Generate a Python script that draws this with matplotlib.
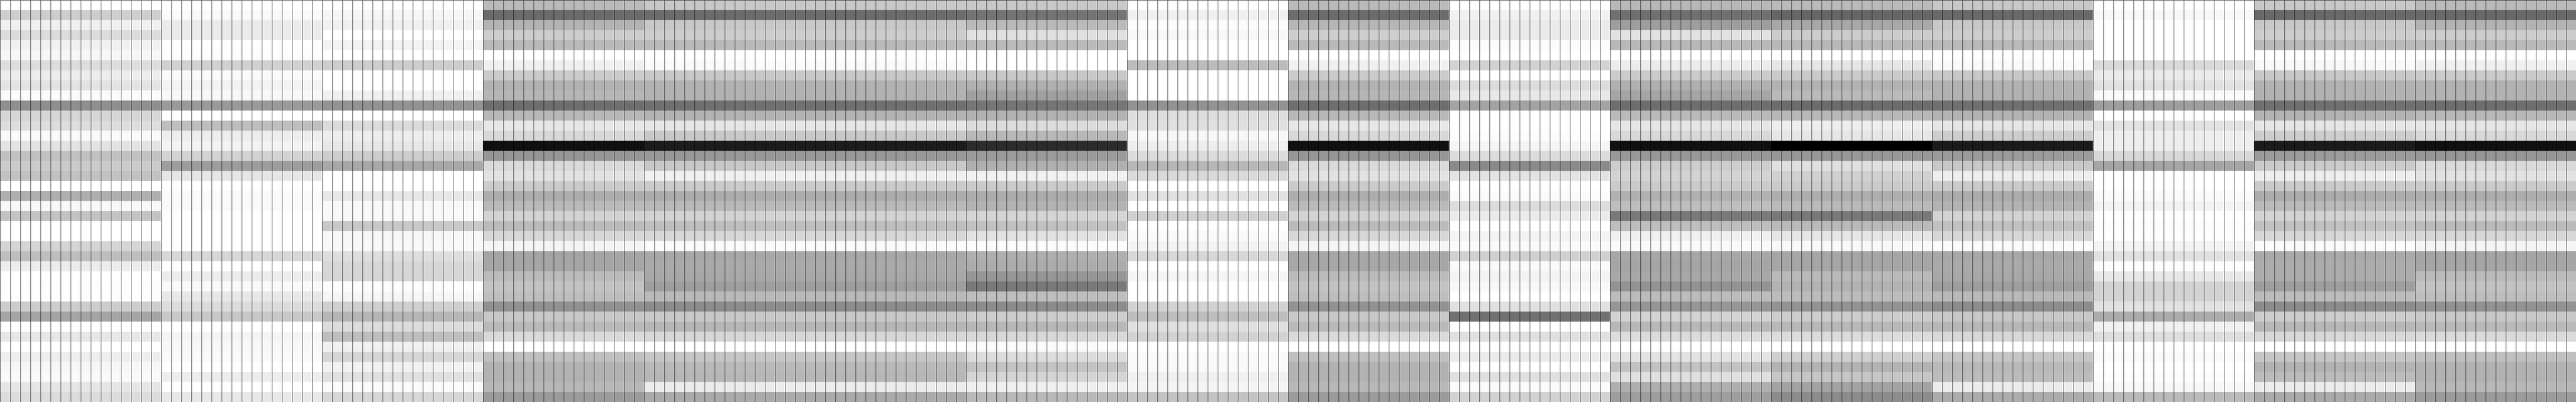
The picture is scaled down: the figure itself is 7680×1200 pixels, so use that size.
import numpy as np
import matplotlib
matplotlib.use("Agg")
import matplotlib.pyplot as plt

# Number of columns covered by each block, left to right
block_columns = [16, 16, 16, 16, 32, 16, 16, 16, 16, 16, 16, 16, 16, 16, 16]

# Grey level of each of the 40 rows (top to bottom), one list per block
block_a = [255,206,240,220,241,247,221,237,227,251,143,214,221,250,227,193,203,194,255,175,248,196,255,255,213,190,236,255,253,254,205,165,255,231,255,238,247,250,230,220]
block_b = [255,250,235,235,255,253,209,250,244,248,154,255,190,237,244,212,157,230,255,250,250,255,255,255,255,215,255,236,250,232,220,200,255,245,248,250,255,237,255,232]
block_c = [255,246,240,255,243,255,205,255,255,240,148,255,219,238,231,205,168,255,255,231,249,249,200,247,249,222,215,214,253,246,208,182,220,190,241,214,242,225,251,215]
block_d = [186,107,180,205,185,255,240,203,178,182,110,184,231,216,16,150,218,226,203,173,186,212,187,215,245,165,166,187,195,190,145,200,185,218,255,192,178,178,184,155]
block_e = [200,108,200,205,185,255,250,200,178,178,112,180,230,200,28,152,200,240,203,172,185,212,190,215,251,168,170,168,158,185,140,200,182,215,255,198,185,183,236,170]
block_f = [200,116,186,224,186,255,255,200,176,160,118,178,220,184,44,155,176,241,203,172,180,213,193,226,252,175,172,150,122,190,140,205,183,216,251,220,195,213,240,185]
block_g = [255,240,252,248,255,255,188,255,255,255,146,222,224,248,238,220,183,218,255,225,255,208,255,250,243,215,255,245,255,255,210,190,224,210,255,250,250,240,245,195]
block_h = [186,108,182,206,185,255,240,203,178,182,110,184,231,216,16,150,218,226,203,173,186,212,187,215,245,167,167,187,195,190,146,200,185,218,255,192,178,178,184,155]
block_i = [255,241,235,235,252,255,210,255,220,232,163,255,255,253,245,220,138,228,255,251,220,235,255,243,250,208,250,244,248,255,225,113,255,224,255,235,255,224,251,210]
block_j = [184,112,158,226,184,255,236,203,176,165,110,186,230,216,16,152,205,212,203,177,190,122,190,240,250,167,165,168,147,188,150,212,184,220,255,228,194,224,175,158]
block_k = [186,102,168,204,184,255,230,202,178,186,108,184,238,230,0,152,224,208,203,174,186,122,186,230,249,166,166,186,178,188,148,205,184,220,255,208,180,198,164,140]
block_l = [200,106,200,205,185,255,250,200,178,178,112,180,230,205,27,155,200,238,203,172,180,212,193,215,251,168,170,168,158,185,140,200,183,216,255,198,185,188,236,172]
block_m = [255,248,255,255,255,255,218,235,225,250,158,255,226,238,238,216,165,255,255,250,243,255,253,254,244,225,253,232,212,212,226,172,241,222,255,250,255,253,248,186]
block_n = [200,106,200,205,185,255,248,200,178,178,112,180,230,205,27,155,203,238,203,172,186,212,193,215,251,170,172,172,158,188,140,205,183,216,255,198,180,188,236,170]
block_o = [186,106,180,205,185,255,240,203,178,180,110,184,230,216,16,150,218,226,203,173,186,212,187,215,245,165,166,187,195,190,146,200,185,218,255,192,178,178,184,155]

blocks = [block_a, block_b, block_c, block_d, block_e, block_f, block_g, block_h,
          block_i, block_j, block_k, block_l, block_m, block_n, block_o]

matrix = np.repeat(np.array(blocks, dtype=float).T, block_columns, axis=1)
n_rows, n_cols = matrix.shape

fig = plt.figure(figsize=(76.8, 12), dpi=100, facecolor="white")
ax = fig.add_axes([0, 0, 1, 1])
ax.imshow(matrix, cmap="gray", vmin=0, vmax=255, aspect="auto",
          interpolation="nearest", extent=(0, n_cols, n_rows, 0))

# One-pixel black grid: a pixel is 1/30 of a cell here
half_px = 0.5 / 30
ax.vlines(np.arange(n_cols) + half_px, 0, n_rows, colors="black", linewidth=0.72)
ax.hlines([half_px, n_rows - half_px], 0, n_cols, colors="black", linewidth=0.72)

ax.set_xlim(0, n_cols)
ax.set_ylim(n_rows, 0)
ax.axis("off")
fig.savefig("out.png", dpi=100)
